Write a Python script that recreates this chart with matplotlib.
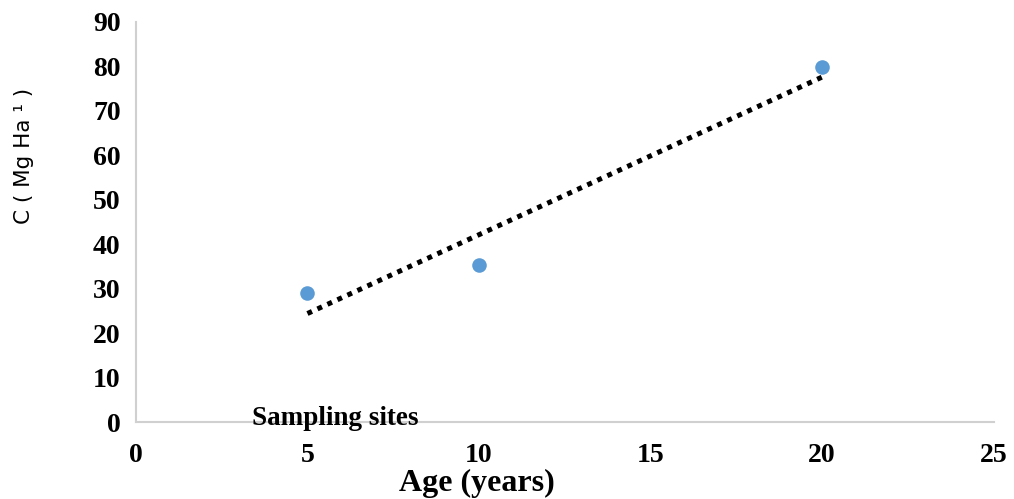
import numpy as np
import matplotlib
import matplotlib.pyplot as plt

matplotlib.use('Agg')

# data
age = [5, 10, 20]
carbon = [29.0, 35.3, 79.9]
x_ticks = [0, 5, 10, 15, 20, 25]
y_ticks = [0, 10, 20, 30, 40, 50, 60, 70, 80, 90]

fig = plt.figure(figsize=(10.14, 4.99), dpi=100)
ax = fig.add_axes([0.134, 0.154, 0.846, 0.802])

# linear trendline over the data range
slope, intercept = np.polyfit(age, carbon, 1)
tx = np.array([min(age), max(age)])
ax.plot(tx, slope * tx + intercept, color='black', lw=3.6,
        linestyle=(0, (1, 1.2)), dash_capstyle='butt', zorder=2)

ax.scatter(age, carbon, s=110, color='#5b9bd5', zorder=3, linewidths=0)

ax.set_xlim(0, 25)
ax.set_ylim(0, 90)
ax.set_xticks(x_ticks)
ax.set_yticks(y_ticks)

serif = 'Liberation Serif'
for lab in ax.get_xticklabels() + ax.get_yticklabels():
    lab.set_fontfamily(serif)
    lab.set_fontweight('bold')
    lab.set_fontsize(20)
ax.tick_params(axis='both', length=0)
ax.tick_params(axis='y', pad=11)
ax.tick_params(axis='x', pad=15)

for s in ['top', 'right']:
    ax.spines[s].set_visible(False)
for s in ['left', 'bottom']:
    ax.spines[s].set_color('#d0d0d0')
    ax.spines[s].set_linewidth(1.5)

ax.set_ylabel('C ( Mg Ha \u00b9 )', fontsize=15.5, family='DejaVu Sans')
ax.yaxis.set_label_coords(-0.119, 0.665)

fig.text(0.470, 0.032, 'Age (years)', family=serif, fontweight='bold',
         fontsize=23, ha='center', va='center')
fig.text(0.331, 0.162, 'Sampling sites', family=serif, fontweight='bold',
         fontsize=19.5, ha='center', va='center')

plt.savefig('out.png', dpi=100)
